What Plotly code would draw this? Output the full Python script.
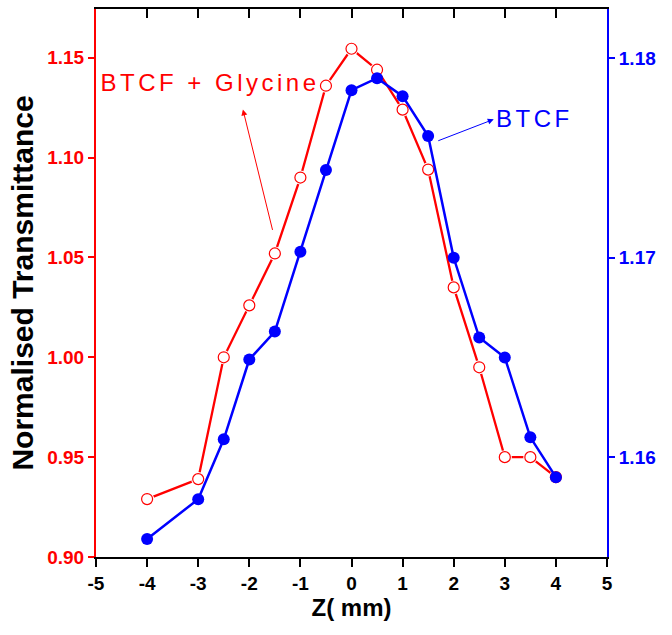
import plotly.graph_objects as go

# Data
z_mm = [-4, -3, -2.5, -2, -1.5, -1, -0.5, 0, 0.5, 1, 1.5, 2, 2.5, 3, 3.5, 4]
t_btcf_glycine = [0.929, 0.939, 1.000, 1.026, 1.052, 1.090, 1.136, 1.1545,
                  1.144, 1.124, 1.094, 1.035, 0.995, 0.950, 0.950, 0.940]
t_btcf = [1.1559, 1.1579, 1.1609, 1.1649, 1.1663, 1.1703, 1.1744, 1.1784,
          1.1790, 1.1781, 1.1761, 1.1700, 1.1660, 1.1650, 1.1610, 1.1590]

x_ticks = [-5, -4, -3, -2, -1, 0, 1, 2, 3, 4, 5]
y_left_ticks = [0.90, 0.95, 1.00, 1.05, 1.10, 1.15]
y_right_ticks = [1.16, 1.17, 1.18]

RED = "#ff0000"
BLUE = "#0000ff"
TICKFONT = "Liberation Sans, Arial"

fig = go.Figure()
fig.add_trace(go.Scatter(
    x=z_mm, y=t_btcf_glycine, mode="lines", name="BTCF + Glycine",
    line=dict(color=RED, width=2.3), xaxis="x", yaxis="y", hoverinfo="skip"))
# white halo so the line stops short of each open circle
fig.add_trace(go.Scatter(
    x=z_mm, y=t_btcf_glycine, mode="markers", showlegend=False,
    marker=dict(symbol="circle", size=14, color="white", line=dict(width=0)),
    xaxis="x", yaxis="y", hoverinfo="skip"))
fig.add_trace(go.Scatter(
    x=z_mm, y=t_btcf_glycine, mode="markers", name="BTCF + Glycine",
    marker=dict(symbol="circle", size=11, color="white",
                line=dict(color=RED, width=1.2)),
    xaxis="x", yaxis="y"))
fig.add_trace(go.Scatter(
    x=z_mm, y=t_btcf, mode="lines+markers", name="BTCF",
    line=dict(color=BLUE, width=2.5),
    marker=dict(symbol="circle", size=12, color=BLUE, line=dict(width=0)),
    xaxis="x", yaxis="y2"))
# empty trace to realise the top (mirror) axis
fig.add_trace(go.Scatter(x=[], y=[], xaxis="x2", yaxis="y", showlegend=False))

fig.update_layout(
    width=672, height=635,
    margin=dict(l=96, r=65, t=9, b=78),
    paper_bgcolor="white", plot_bgcolor="white",
    showlegend=False,
    xaxis=dict(range=[-5, 5], tickvals=x_ticks, ticktext=[str(v) for v in x_ticks],
               ticks="outside", ticklen=8, tickwidth=2, tickcolor="black",
               showline=True, linecolor="black", linewidth=2,
               showgrid=False, zeroline=False,
               tickfont=dict(family=TICKFONT, size=19, color="black", weight="bold"),
               title=dict(text="Z( mm)", standoff=5,
                          font=dict(family="Liberation Sans, Arial", size=24,
                                    color="black", weight="bold"))),
    xaxis2=dict(range=[-5, 5], overlaying="x", anchor="y", side="top",
                tickvals=x_ticks, ticks="inside", ticklen=9, tickwidth=2,
                tickcolor="black", showticklabels=False,
                showline=True, linecolor="black", linewidth=2,
                showgrid=False, zeroline=False),
    yaxis=dict(range=[0.9, 1.1744], tickvals=y_left_ticks,
               ticktext=["%.2f" % v for v in y_left_ticks],
               ticks="outside", ticklen=6, tickwidth=2, tickcolor=RED,
               showline=True, linecolor=RED, linewidth=2,
               showgrid=False, zeroline=False,
               tickfont=dict(family=TICKFONT, size=19, color=RED, weight="bold"),
               title=dict(text="Normalised Transmittance", standoff=5,
                          font=dict(family="Liberation Sans, Arial", size=30,
                                    color="black", weight="bold"))),
    yaxis2=dict(range=[1.155, 1.18247], overlaying="y", anchor="x", side="right",
                tickvals=y_right_ticks, ticktext=["%.2f" % v for v in y_right_ticks],
                ticks="outside", ticklen=6, tickwidth=2, tickcolor=BLUE,
                showline=True, linecolor=BLUE, linewidth=2,
                showgrid=False, zeroline=False,
                tickfont=dict(family=TICKFONT, size=19, color=BLUE, weight="bold")),
)

ann_font = "Liberation Sans, Arial"
fig.add_annotation(text="BTCF + Glycine", x=-2.761, y=1.1376, xref="x", yref="y",
                   showarrow=False, font=dict(family=ann_font, size=24, color=RED))
fig.add_annotation(text="", x=-2.125, y=1.1241, xref="x", yref="y",
                   showarrow=True, ax=30, ay=122, arrowcolor=RED,
                   arrowwidth=1, arrowhead=2, arrowsize=1.2)
fig.add_annotation(text="BTCF", x=3.586, y=1.17696, xref="x", yref="y2",
                   showarrow=False, font=dict(family=ann_font, size=24, color=BLUE))
fig.add_annotation(text="", x=2.784, y=1.17694, xref="x", yref="y2",
                   showarrow=True, ax=-57, ay=22, arrowcolor=BLUE,
                   arrowwidth=1, arrowhead=2, arrowsize=1.2)

post = """
var gd = document.getElementById('{plot_id}');
gd.querySelectorAll('.annotation-text').forEach(function(t){ t.style.letterSpacing='3.5px'; });
"""
fig.write_html("out.html", post_script=post)
